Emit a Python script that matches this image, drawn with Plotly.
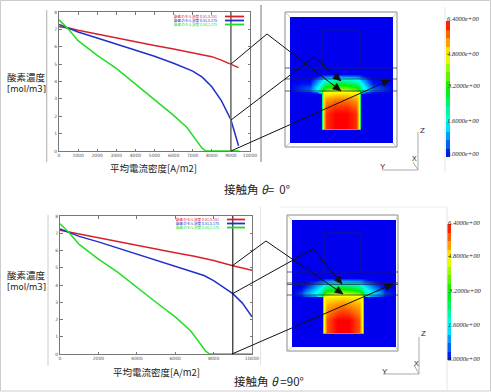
import math
import plotly.graph_objects as go

W, H = 491, 392
XT_A = [0, 1000, 2000, 3000, 4000, 5000, 6000, 7000, 8000, 9000, 10000]
XLAB_A = ["0", "1000", "2000", "3000", "4000", "5000", "6000", "7000", "8000", "9000", "10000"]
XT_B = [0, 2000, 4000, 6000, 8000, 10000]
XLAB_B = ["0", "2000", "4000", "6000", "8000", "10000"]
YT = [0, 1, 2, 3, 4, 5, 6, 7, 8]
NAMES = ["酸素のモル濃度 0.51,5.151", "酸素のモル濃度 0.51,5.175", "酸素のモル濃度 0.50,2.175"]
CB_LABELS = ["6.4000e+00", "4.8000e+00", "3.2000e+00", "1.6000e+00", "0.0000e+00"]
CB_LEVELS = [0.2, 0.6, 1.0, 1.4, 1.8, 2.2, 2.6, 3.0, 3.4, 3.8, 4.2, 4.6, 5.0, 5.4, 5.8, 6.2]
MARK_X = 9000

ax_red = [0, 500, 1000, 2000, 3000, 4000, 5000, 6000, 7000, 7500, 8000, 8500, 9000, 9400]
ay_red = [7.15, 7.08, 6.95, 6.72, 6.5, 6.28, 6.07, 5.87, 5.67, 5.57, 5.43, 5.23, 4.97, 4.8]
ax_blue = [0, 500, 1000, 2000, 3000, 4000, 5000, 6000, 7000, 7500, 8000, 8500, 9000, 9400]
ay_blue = [7.28, 7.05, 6.85, 6.5, 6.15, 5.8, 5.45, 5.05, 4.6, 4.25, 3.7, 2.9, 1.8, 0.3]
ax_green = [0, 500, 1000, 2000, 3000, 4000, 5000, 6000, 6700, 7200, 7500, 7700, 8000, 9000, 9450]
ay_green = [7.55, 7.0, 6.35, 5.5, 4.75, 3.85, 2.95, 2.05, 1.35, 0.6, 0.15, 0.0, 0.0, 0.0, 0.0]

bx_red = [0, 500, 1000, 2000, 3000, 4000, 5000, 6000, 7000, 8000, 9000, 10000]
by_red = [7.18, 7.07, 6.95, 6.72, 6.5, 6.27, 6.07, 5.87, 5.67, 5.42, 5.12, 4.85]
bx_blue = [0, 500, 1000, 2000, 3000, 4000, 5000, 6000, 7000, 7500, 8000, 8500, 9000, 9500, 10000]
by_blue = [7.25, 7.02, 6.82, 6.5, 6.15, 5.8, 5.45, 5.08, 4.75, 4.55, 4.25, 3.9, 3.5, 2.95, 2.15]
bx_green = [0, 500, 1000, 2000, 3000, 4000, 5000, 6000, 6800, 7200, 7600, 7800, 8000, 9000, 10000]
by_green = [7.55, 7.0, 6.35, 5.5, 4.75, 3.85, 3.0, 2.15, 1.35, 0.75, 0.15, 0.0, 0.0, 0.0, 0.0]

field_a_x = [0, 20, 23, 27, 31, 33, 36, 45, 51, 57, 66, 69, 71, 75, 79, 83, 103]
field_a_y = [0, 57, 59, 62, 66, 70, 73.5, 75, 76.5, 82, 90, 97, 111, 113, 126]
field_a_z = [
    [0, 0, 0, 0, 0, 0, 0, 0, 0, 0, 0, 0, 0, 0, 0, 0, 0],
    [0, 0, 0, 0, 0, 0, 0, 0, 0, 0, 0, 0, 0, 0, 0, 0, 0],
    [0, 0, 0, 0, .3, .5, .6, .7, .7, .7, .6, .5, .3, 0, 0, 0, 0],
    [0, 0, .2, .7, 1.1, 1.4, 1.6, 1.8, 1.8, 1.8, 1.6, 1.4, 1.1, .7, .2, 0, 0],
    [0, .1, .6, 1.1, 1.6, 2, 2.3, 2.7, 2.8, 2.7, 2.3, 2, 1.6, 1.1, .6, .1, 0],
    [0, .5, 1, 1.5, 2.1, 2.8, 3.2, 3.6, 3.7, 3.6, 3.2, 2.8, 2.1, 1.5, 1, .5, 0],
    [0, .7, 1.2, 1.7, 2.6, 3.6, 4.1, 4.5, 4.6, 4.5, 4.1, 3.6, 2.6, 1.7, 1.2, .7, 0],
    [0, .1, .4, .6, 2.2, 4.8, 4.8, 4.8, 4.8, 4.8, 4.8, 4.8, 2.2, .6, .4, .1, 0],
    [0, 0, 0, 0, 0, 4.9, 4.9, 5, 5, 5, 4.9, 4.9, 0, 0, 0, 0, 0],
    [0, 0, 0, 0, 0, 4.9, 5.4, 5.6, 5.6, 5.6, 5.4, 4.9, 0, 0, 0, 0, 0],
    [0, 0, 0, 0, 0, 4.9, 5.8, 6.1, 6.1, 6.1, 5.8, 4.9, 0, 0, 0, 0, 0],
    [0, 0, 0, 0, 0, 4.9, 6.1, 6.4, 6.4, 6.4, 6.1, 4.9, 0, 0, 0, 0, 0],
    [0, 0, 0, 0, 0, 4.9, 6.1, 6.4, 6.4, 6.4, 6.1, 4.9, 0, 0, 0, 0, 0],
    [0, 0, 0, 0, 0, 0, 0, 0, 0, 0, 0, 0, 0, 0, 0, 0, 0],
    [0, 0, 0, 0, 0, 0, 0, 0, 0, 0, 0, 0, 0, 0, 0, 0, 0],
]

field_b_x = [0, 9, 13, 18, 24, 30, 32, 35, 45, 51, 57, 67, 70, 72, 78, 84, 89, 93, 104]
field_b_y = [0, 58, 60, 63, 67, 71, 74, 75.5, 77, 85, 93, 100, 112, 113.5, 127]
field_b_z = [
    [0] * 19,
    [0] * 19,
    [0, 0, 0, 0, 0, .3, .5, .6, .7, .7, .7, .6, .5, .3, 0, 0, 0, 0, 0],
    [0, 0, 0, .2, .7, 1.1, 1.4, 1.6, 1.8, 1.8, 1.8, 1.6, 1.4, 1.1, .7, .2, 0, 0, 0],
    [0, 0, .2, .6, 1.1, 1.6, 2, 2.4, 2.8, 2.9, 2.8, 2.4, 2, 1.6, 1.1, .6, .2, 0, 0],
    [0, .2, .7, 1.1, 1.5, 2.1, 2.8, 3.2, 3.6, 3.7, 3.6, 3.2, 2.8, 2.1, 1.5, 1.1, .7, .2, 0],
    [0, .4, 1, 1.3, 1.7, 2.6, 3.6, 4.1, 4.5, 4.6, 4.5, 4.1, 3.6, 2.6, 1.7, 1.3, 1, .4, 0],
    [0, .1, .5, .8, 1.1, 2.4, 4.8, 4.8, 4.8, 4.8, 4.8, 4.8, 4.8, 2.4, 1.1, .8, .5, .1, 0],
    [0, 0, 0, 0, 0, 0, 4.8, 4.9, 4.9, 5, 4.9, 4.9, 4.8, 0, 0, 0, 0, 0, 0],
    [0, 0, 0, 0, 0, 0, 4.8, 5.3, 5.5, 5.6, 5.5, 5.3, 4.8, 0, 0, 0, 0, 0, 0],
    [0, 0, 0, 0, 0, 0, 4.8, 5.6, 6, 6.1, 6, 5.6, 4.8, 0, 0, 0, 0, 0, 0],
    [0, 0, 0, 0, 0, 0, 4.8, 5.9, 6.4, 6.4, 6.4, 5.9, 4.8, 0, 0, 0, 0, 0, 0],
    [0, 0, 0, 0, 0, 0, 4.8, 5.9, 6.4, 6.4, 6.4, 5.9, 4.8, 0, 0, 0, 0, 0, 0],
    [0] * 19,
    [0] * 19,
]

RED, BLUE, GREEN = "#d8202a", "#2030c8", "#22dd22"
SCALE = [[0, "#0000ee"], [.25, "#00ffff"], [.5, "#00ee00"], [.75, "#ffff00"], [1, "#ff0000"]]
JP = "Noto Sans CJK JP"


def px(x0, x1):
    return [x0 / W, x1 / W]


def py(y0, y1):
    return [1 - y1 / H, 1 - y0 / H]


def X(v):
    return v / W


def Y(v):
    return 1 - v / H


shapes, notes = [], []


def line(pts, color="black", width=1.0, dash=None):
    d = "M " + " L ".join(f"{X(a):.5f} {Y(b):.5f}" for a, b in pts)
    shapes.append(dict(type="path", path=d, xref="paper", yref="paper", layer="above",
                       line=dict(color=color, width=width, dash=dash or "solid")))


def arrow(pts, size=8):
    line(pts, "#111111", 1.0)
    (a, b), (c, d) = pts[-2], pts[-1]
    n = math.hypot(c - a, d - b)
    ux, uy = (c - a) / n, (d - b) / n
    bx, by = c - ux * size, d - uy * size
    p1 = (bx - uy * size * .45, by + ux * size * .45)
    p2 = (bx + uy * size * .45, by - ux * size * .45)
    path = f"M {X(c):.5f} {Y(d):.5f} L {X(p1[0]):.5f} {Y(p1[1]):.5f} L {X(p2[0]):.5f} {Y(p2[1]):.5f} Z"
    shapes.append(dict(type="path", path=path, xref="paper", yref="paper", layer="above",
                       fillcolor="#111111", line=dict(color="#111111", width=.5)))


def text(x, y, s, size=9, color="#222222", family=JP, anchor="center"):
    notes.append(dict(x=X(x), y=Y(y), xref="paper", yref="paper", text=s, showarrow=False, xanchor=anchor,
                      yanchor="middle", font=dict(size=size, color=color, family=family), borderpad=0, borderwidth=0))


fig = go.Figure()
for xs, ys, col, name in [(ax_red, ay_red, RED, NAMES[0]), (ax_blue, ay_blue, BLUE, NAMES[1]), (ax_green, ay_green, GREEN, NAMES[2])]:
    fig.add_trace(go.Scatter(x=xs, y=ys, mode="lines", line=dict(color=col, width=1.5), xaxis="x", yaxis="y", name=name, cliponaxis=False))
for xs, ys, col, name in [(bx_red, by_red, RED, NAMES[0]), (bx_blue, by_blue, BLUE, NAMES[1]), (bx_green, by_green, GREEN, NAMES[2])]:
    fig.add_trace(go.Scatter(x=xs, y=ys, mode="lines", line=dict(color=col, width=1.5), xaxis="x2", yaxis="y2", name=name, cliponaxis=False))

fig.add_trace(go.Heatmap(x=field_a_x, y=field_a_y, z=field_a_z, zmin=0, zmax=6.4, zsmooth="best", colorscale=SCALE, xaxis="x3", yaxis="y3", showscale=False))
fig.add_trace(go.Heatmap(x=field_b_x, y=field_b_y, z=field_b_z, zmin=0, zmax=6.4, zsmooth="best", colorscale=SCALE, xaxis="x4", yaxis="y4", showscale=False))
bar_z = [[v] for v in CB_LEVELS]
fig.add_trace(go.Heatmap(y=CB_LEVELS, z=bar_z, zmin=0, zmax=6.4, colorscale=SCALE, xaxis="x5", yaxis="y5", showscale=False))
fig.add_trace(go.Heatmap(y=CB_LEVELS, z=bar_z, zmin=0, zmax=6.4, colorscale=SCALE, xaxis="x6", yaxis="y6", showscale=False))

shapes.append(dict(type="rect", xref="paper", yref="paper", x0=X(.5), x1=X(490.5), y0=Y(.5), y1=Y(391), line=dict(color="#cccccc", width=1), layer="below"))
line([(46.7, 10), (46.7, 162)], "#bbbbbb", 1.2)
line([(261, 5), (261, 162)], "#bbbbbb", 2)
line([(48, 215), (48, 366)], "#cccccc", 1)
line([(260.5, 207), (260.5, 365)], "#e2e2e2", 1)
line([(280, 207), (447, 207)], "#eeeeee", 1)
line([(445, 7), (445, 172)], "#e6e6e6", 1)
line([(447, 207), (447, 390)], "#e6e6e6", 1)

shapes.append(dict(type="line", xref="x", yref="y", x0=MARK_X, x1=MARK_X, y0=0, y1=8, line=dict(color="#707070", width=1.6), layer="above"))
shapes.append(dict(type="line", xref="x2", yref="y2", x0=MARK_X, x1=MARK_X, y0=0, y1=8, line=dict(color="#111111", width=1.1), layer="above"))

for (l, r, t, b, il, ir, it, ib) in [(285, 397, 12, 147, 290, 393, 17, 143), (287, 398, 215, 351, 292, 396, 220, 347)]:
    line([(l, t), (r, t), (r, b), (l, b), (l, t)], "#8a8a8a", 1)
    line([(l, t), (il, it)], "#bbbbbb", .8)
    line([(r, t), (ir, it)], "#bbbbbb", .8)
    line([(l, b), (il, ib)], "#bbbbbb", .8)
    line([(r, b), (ir, ib)], "#bbbbbb", .8)

for yy in (68, 79, 91):
    line([(285, yy), (397, yy)], "#1a2050", .7)
line([(322, 68), (322, 30), (360, 30), (360, 68)], "#1a2050", .7)
for yy in (272, 283, 284.5, 295):
    line([(287, yy), (398, yy)], "#1a2050", .7)
line([(324, 272), (324, 233), (361, 233), (361, 272)], "#1a2050", .7)

arrow([(231, 64), (267, 34), (341, 91)])
arrow([(231, 120), (314, 57), (341, 81)])
arrow([(231, 151), (390, 80)])
arrow([(232, 266), (266, 241), (343, 294)])
arrow([(232, 294), (313, 249), (342, 284)])
arrow([(232, 354), (393, 284)])

for ox, oy, zy, yx, xx, xy in [(418, 170, 132, 382, 413, 162), (419, 374, 337, 383, 414, 365)]:
    line([(ox, zy), (ox, oy), (yx, oy)], "#aaaaaa", 1)
    line([(ox, oy), (xx, xy)], "#aaaaaa", 1)
text(422, 130, "Z", 8, "#222222", "Liberation Sans")
text(383, 167, "Y", 8, "#222222", "Liberation Sans")
text(414, 159, "X", 7, "#222222", "Liberation Sans")
text(423, 333, "Z", 8, "#222222", "Liberation Sans")
text(385, 371, "Y", 8, "#222222", "Liberation Sans")
text(416, 363, "X", 7, "#222222", "Liberation Sans")

for lab, yy in zip(CB_LABELS, (19, 53, 86, 120, 154)):
    text(447, yy, "<i>" + lab + "</i>", 6.5, "#222222", "Liberation Serif", "left")
for lab, yy in zip(CB_LABELS, (222, 256, 290, 324, 358)):
    text(448, yy, "<i>" + lab + "</i>", 6.5, "#222222", "Liberation Serif", "left")

for name, col, ya, yb in zip(NAMES, (RED, BLUE, GREEN), (16.5, 20.5, 24.5), (219.5, 223.5, 227.5)):
    text(174, ya, name, 3.6, col, JP, "left")
    line([(225, ya), (244, ya)], col, 1.8)
    text(176, yb, name, 3.6, col, JP, "left")
    line([(227, yb), (245, yb)], col, 1.8)

text(26, 77, "酸素濃度", 9.5)
text(26, 89, "[mol/m3]", 8.5, family="DejaVu Sans")
text(153, 168, "平均電流密度[A/m2]", 9.5)
text(257, 189, "接触角 <i>θ</i>=  0°", 11.5)
text(26, 275, "酸素濃度", 9.5)
text(26, 287, "[mol/m3]", 8.5, family="DejaVu Sans")
text(156, 372, "平均電流密度[A/m2]", 9.5)
text(269, 381, "接触角 <i>θ</i> =90°", 11.5)

axis_common = dict(showgrid=False, zeroline=False, showline=True, mirror="ticks", linecolor="#777777", linewidth=1, automargin=False,
                   ticks="inside", ticklen=2.5, tickcolor="#777777", tickfont=dict(size=4.5, color="#555555", family="DejaVu Sans"))
hidden = dict(visible=False, automargin=False)
fig.update_layout(
    template="none",
    width=W, height=H, margin=dict(l=0, r=0, t=0, b=0, pad=0), paper_bgcolor="white", plot_bgcolor="white", showlegend=False,
    xaxis=dict(domain=px(59, 250), range=[0, 10000], tickvals=XT_A, ticktext=XLAB_A, anchor="y", **axis_common),
    yaxis=dict(domain=py(12, 151), range=[0, 8], tickvals=YT, anchor="x", **axis_common),
    xaxis2=dict(domain=px(60, 252), range=[0, 10000], tickvals=XT_B, ticktext=XLAB_B, anchor="y2", **axis_common),
    yaxis2=dict(domain=py(216, 354), range=[0, 8], tickvals=YT, anchor="x2", **axis_common),
    xaxis3=dict(domain=px(290, 393), range=[0, 103], anchor="y3", **hidden),
    yaxis3=dict(domain=py(17, 143), range=[126, 0], anchor="x3", **hidden),
    xaxis4=dict(domain=px(292, 396), range=[0, 104], anchor="y4", **hidden),
    yaxis4=dict(domain=py(220, 347), range=[127, 0], anchor="x4", **hidden),
    xaxis5=dict(domain=px(446, 450), anchor="y5", **hidden),
    yaxis5=dict(domain=py(21, 157), range=[0, 6.4], anchor="x5", **hidden),
    xaxis6=dict(domain=px(447, 451), anchor="y6", **hidden),
    yaxis6=dict(domain=py(224, 360), range=[0, 6.4], anchor="x6", **hidden),
    shapes=shapes, annotations=notes,
)
fig.write_html("out.html", config={"displayModeBar": False},
               post_script="document.body.style.margin='0';document.body.style.overflow='hidden';")
